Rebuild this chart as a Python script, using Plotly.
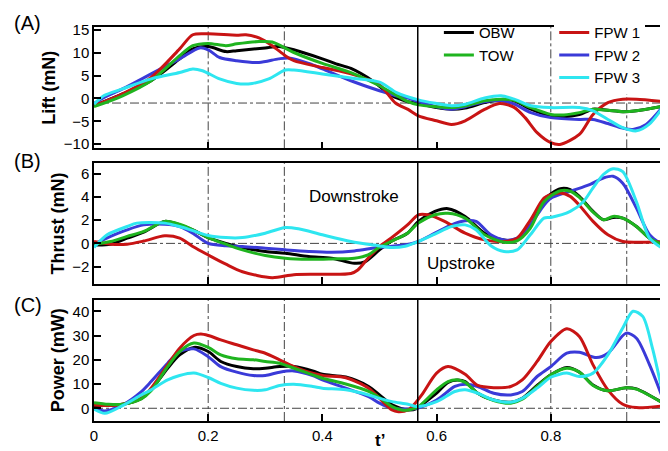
import plotly.graph_objects as go

# ---------------- (A) Lift (mN)
lift_obw_t = [0, 0.05, 0.1, 0.15, 0.173, 0.2, 0.231, 0.25, 0.3, 0.323, 0.35, 0.4, 0.424, 0.45, 0.49, 0.52, 0.55, 0.568, 0.6, 0.626, 0.65, 0.684, 0.713, 0.736, 0.765, 0.8, 0.823, 0.85, 0.874, 0.9, 0.926, 0.95, 1.0]
lift_obw = [-1.6, 1.0, 3.9, 8.7, 10.9, 11.4, 10.3, 10.5, 11.1, 11.4, 10.7, 8.7, 7.6, 6.6, 3.7, 0.7, -0.7, -1.1, -2.0, -2.35, -2.1, -0.9, -0.2, -0.5, -2.35, -3.8, -4.0, -3.5, -2.35, -2.6, -2.9, -2.7, -1.6]
lift_tow_t = [0, 0.05, 0.1, 0.15, 0.173, 0.2, 0.231, 0.25, 0.289, 0.312, 0.35, 0.4, 0.45, 0.5, 0.55, 0.568, 0.6, 0.626, 0.65, 0.684, 0.713, 0.736, 0.765, 0.8, 0.823, 0.85, 0.874, 0.9, 0.926, 0.95, 1.0]
lift_tow = [-1.8, 0.6, 3.9, 9.4, 11.6, 12.1, 11.6, 12.0, 12.5, 12.4, 10.1, 7.7, 5.7, 2.8, -0.7, -1.4, -1.8, -2.0, -1.6, -0.5, -0.15, -0.4, -2.0, -3.5, -3.6, -3.1, -2.35, -2.6, -2.9, -2.7, -1.6]
lift_fpw1_t = [0, 0.05, 0.1, 0.15, 0.173, 0.2, 0.25, 0.266, 0.289, 0.312, 0.335, 0.35, 0.4, 0.45, 0.5, 0.528, 0.55, 0.568, 0.6, 0.626, 0.65, 0.684, 0.71, 0.735, 0.755, 0.776, 0.8, 0.816, 0.85, 0.874, 0.9, 0.926, 0.95, 1.0]
lift_fpw1 = [-1.6, 1.0, 4.6, 10.9, 14.0, 14.2, 13.9, 14.0, 13.3, 11.6, 9.4, 8.3, 6.8, 5.4, 3.0, -1.0, -2.4, -3.8, -4.9, -5.7, -4.9, -2.4, -1.1, -1.9, -4.2, -7.5, -9.7, -10.1, -7.9, -3.5, -0.9, -0.15, -0.15, -0.7]
lift_fpw2_t = [0, 0.017, 0.05, 0.1, 0.15, 0.185, 0.2, 0.22, 0.25, 0.289, 0.323, 0.341, 0.376, 0.4, 0.45, 0.5, 0.528, 0.55, 0.568, 0.6, 0.626, 0.65, 0.684, 0.713, 0.736, 0.765, 0.8, 0.85, 0.874, 0.9, 0.926, 0.944, 0.967, 1.0]
lift_fpw2 = [-1.1, 0.2, 2.1, 5.4, 8.7, 11.1, 10.7, 9.0, 8.3, 7.9, 8.7, 8.9, 7.7, 6.5, 3.9, 1.7, 0.6, 0.1, -0.7, -1.8, -2.35, -1.8, -0.7, -0.5, -1.25, -3.1, -4.2, -4.6, -4.6, -5.5, -6.5, -6.8, -5.7, -1.25]
lift_fpw3_t = [0, 0.017, 0.05, 0.1, 0.15, 0.173, 0.19, 0.22, 0.25, 0.277, 0.306, 0.335, 0.35, 0.4, 0.45, 0.5, 0.53, 0.568, 0.6, 0.626, 0.65, 0.684, 0.713, 0.736, 0.765, 0.8, 0.85, 0.874, 0.9, 0.926, 0.95, 0.972, 1.0]
lift_fpw3 = [-1.25, 0.6, 2.1, 4.3, 5.7, 6.5, 6.1, 4.3, 3.3, 3.3, 4.3, 6.25, 6.25, 5.4, 4.5, 3.6, 1.3, -0.3, -1.1, -1.6, -1.25, 0.1, 0.6, -0.15, -1.6, -2.0, -2.0, -2.7, -4.6, -6.4, -7.1, -5.7, -1.25]

# ---------------- (B) Thrust (mN)
thr_obw_t = [0, 0.029, 0.058, 0.087, 0.124, 0.15, 0.173, 0.2, 0.231, 0.26, 0.3, 0.335, 0.376, 0.416, 0.456, 0.474, 0.5, 0.52, 0.549, 0.568, 0.597, 0.62, 0.65, 0.684, 0.718, 0.741, 0.764, 0.788, 0.817, 0.834, 0.85, 0.874, 0.892, 0.909, 0.926, 0.95, 0.973, 1.0]
thr_obw = [-0.13, -0.07, 0.45, 0.97, 1.9, 1.6, 1.17, 0.5, 0.0, -0.36, -0.7, -0.85, -1.14, -1.28, -1.72, -1.6, -0.56, 0.16, 0.88, 1.9, 2.76, 3.0, 2.33, 0.88, 0.3, 0.3, 1.46, 3.77, 4.72, 4.64, 4.06, 2.76, 2.04, 2.24, 2.18, 1.46, 0.45, -0.13]
thr_tow_t = [0, 0.029, 0.058, 0.087, 0.124, 0.15, 0.173, 0.2, 0.231, 0.26, 0.3, 0.335, 0.376, 0.416, 0.456, 0.48, 0.497, 0.52, 0.549, 0.568, 0.597, 0.62, 0.65, 0.684, 0.718, 0.741, 0.764, 0.788, 0.817, 0.834, 0.85, 0.874, 0.892, 0.909, 0.926, 0.95, 0.973, 1.0]
thr_tow = [-0.07, 0.16, 0.6, 1.03, 1.9, 1.65, 1.17, 0.5, -0.07, -0.56, -1.05, -1.28, -1.37, -1.34, -1.28, -1.0, -0.42, 0.16, 0.88, 1.75, 2.47, 2.6, 2.18, 0.74, 0.1, 0.22, 1.3, 3.6, 4.55, 4.5, 3.97, 2.7, 2.04, 2.33, 2.18, 1.46, 0.45, -0.2]
thr_fpw1_t = [0, 0.029, 0.058, 0.087, 0.124, 0.15, 0.173, 0.2, 0.231, 0.26, 0.312, 0.35, 0.4, 0.45, 0.462, 0.48, 0.5, 0.52, 0.549, 0.568, 0.585, 0.614, 0.65, 0.684, 0.718, 0.741, 0.764, 0.788, 0.8, 0.817, 0.834, 0.85, 0.874, 0.9, 0.926, 0.95, 1.0]
thr_fpw1 = [0.16, -0.07, -0.07, 0.2, 0.65, 0.45, -0.27, -1.0, -1.8, -2.45, -2.96, -2.7, -2.67, -2.6, -2.3, -1.28, -0.27, 0.45, 1.6, 2.47, 2.47, 1.9, 0.88, 0.3, 0.16, 0.45, 2.0, 3.9, 4.2, 4.35, 4.06, 3.3, 1.9, 0.74, 0.16, 0.1, 0.16]
thr_fpw2_t = [0, 0.029, 0.058, 0.087, 0.124, 0.15, 0.173, 0.2, 0.231, 0.26, 0.3, 0.335, 0.376, 0.416, 0.456, 0.497, 0.549, 0.568, 0.597, 0.626, 0.65, 0.669, 0.695, 0.718, 0.741, 0.764, 0.788, 0.8, 0.834, 0.869, 0.892, 0.909, 0.926, 0.95, 0.973, 1.0]
thr_fpw2 = [-0.07, 0.6, 1.17, 1.6, 1.66, 1.46, 0.88, 0.0, -0.2, -0.27, -0.42, -0.56, -0.7, -0.77, -0.65, -0.36, -0.1, 0.16, 0.88, 1.6, 1.95, 1.9, 0.74, 0.3, 0.45, 1.6, 3.3, 3.9, 4.5, 5.1, 5.65, 5.8, 5.2, 3.05, 0.74, -0.27]
thr_fpw3_t = [0, 0.023, 0.058, 0.075, 0.124, 0.15, 0.173, 0.2, 0.231, 0.26, 0.3, 0.335, 0.358, 0.4, 0.45, 0.497, 0.52, 0.545, 0.568, 0.597, 0.626, 0.65, 0.669, 0.695, 0.718, 0.741, 0.764, 0.788, 0.8, 0.834, 0.857, 0.874, 0.892, 0.909, 0.926, 0.95, 0.973, 1.0]
thr_fpw3 = [-0.36, 0.74, 1.46, 1.75, 1.75, 1.46, 1.1, 0.68, 0.5, 0.5, 0.88, 1.37, 1.26, 0.74, 0.16, -0.2, -0.36, -0.25, 0.16, 0.8, 1.46, 1.6, 1.17, -0.2, -0.7, -0.56, 0.74, 2.18, 2.24, 2.76, 3.6, 4.8, 5.95, 6.45, 6.2, 3.6, 0.45, -0.56]

# ---------------- (C) Power (mW)
pow_obw_t = [0, 0.05, 0.083, 0.1, 0.129, 0.15, 0.175, 0.2, 0.222, 0.25, 0.279, 0.3, 0.325, 0.35, 0.383, 0.4, 0.441, 0.481, 0.5, 0.522, 0.55, 0.566, 0.574, 0.6, 0.62, 0.637, 0.65, 0.672, 0.7, 0.73, 0.75, 0.776, 0.8, 0.828, 0.85, 0.874, 0.9, 0.932, 0.95, 1.0]
pow_obw = [1.1, 1.65, 4.1, 7.6, 16.5, 22.0, 25.1, 23.4, 19.3, 17.2, 16.3, 16.5, 17.2, 17.2, 15.4, 14.0, 12.9, 9.0, 5.5, 1.4, -0.7, 0.0, 1.4, 6.2, 10.7, 11.7, 11.0, 6.2, 3.4, 2.5, 4.1, 9.4, 13.8, 16.8, 14.9, 9.6, 7.2, 8.5, 8.0, 1.65]
pow_tow_t = [0, 0.025, 0.05, 0.083, 0.1, 0.129, 0.15, 0.175, 0.2, 0.222, 0.25, 0.279, 0.3, 0.325, 0.35, 0.383, 0.4, 0.441, 0.481, 0.5, 0.522, 0.539, 0.55, 0.566, 0.6, 0.62, 0.637, 0.65, 0.672, 0.7, 0.73, 0.75, 0.776, 0.8, 0.828, 0.85, 0.874, 0.9, 0.932, 0.95, 1.0]
pow_tow = [2.3, 1.65, 1.65, 3.9, 7.2, 17.2, 23.4, 26.9, 25.1, 22.0, 20.4, 20.0, 19.3, 18.6, 16.5, 13.8, 12.4, 10.0, 7.0, 4.4, 0.7, -0.7, -0.7, 0.3, 7.6, 11.0, 11.7, 10.7, 6.2, 3.2, 2.1, 3.7, 9.0, 13.8, 16.5, 14.9, 9.4, 7.2, 8.5, 7.9, 1.65]
pow_fpw1_t = [0, 0.025, 0.05, 0.083, 0.1, 0.129, 0.15, 0.175, 0.187, 0.2, 0.222, 0.25, 0.279, 0.3, 0.325, 0.35, 0.372, 0.4, 0.441, 0.481, 0.5, 0.522, 0.533, 0.55, 0.56, 0.574, 0.6, 0.62, 0.65, 0.672, 0.7, 0.73, 0.75, 0.776, 0.8, 0.828, 0.85, 0.874, 0.9, 0.926, 0.95, 1.0]
pow_fpw1 = [1.4, 1.1, 1.65, 4.1, 8.3, 17.9, 24.8, 30.0, 30.6, 30.0, 28.2, 26.2, 24.1, 22.7, 20.0, 17.2, 15.2, 13.5, 12.6, 8.3, 4.1, -0.7, -1.4, -0.7, 1.4, 5.5, 14.5, 17.2, 14.0, 9.4, 8.5, 9.0, 11.7, 19.3, 27.5, 32.8, 29.6, 17.9, 7.6, 1.65, 0.3, 1.1]
pow_fpw2_t = [0, 0.019, 0.05, 0.083, 0.1, 0.129, 0.15, 0.175, 0.2, 0.222, 0.25, 0.279, 0.3, 0.325, 0.35, 0.383, 0.4, 0.441, 0.481, 0.5, 0.522, 0.55, 0.566, 0.6, 0.632, 0.65, 0.672, 0.7, 0.73, 0.75, 0.776, 0.8, 0.828, 0.85, 0.88, 0.9, 0.932, 0.95, 0.973, 1.0]
pow_fpw2 = [0.0, -1.1, 1.4, 6.9, 11.0, 18.6, 23.4, 24.5, 21.3, 17.2, 14.9, 13.5, 13.5, 14.9, 15.4, 13.5, 11.7, 8.3, 4.8, 2.1, 0.0, -0.3, 0.0, 3.4, 9.0, 9.9, 9.0, 6.2, 5.5, 6.9, 13.1, 17.2, 22.7, 23.1, 20.9, 22.7, 31.0, 28.9, 17.9, 1.65]
pow_fpw3_t = [0, 0.019, 0.05, 0.083, 0.1, 0.129, 0.15, 0.175, 0.2, 0.222, 0.25, 0.279, 0.3, 0.325, 0.35, 0.383, 0.4, 0.441, 0.481, 0.5, 0.522, 0.55, 0.566, 0.6, 0.632, 0.65, 0.672, 0.7, 0.73, 0.75, 0.776, 0.8, 0.828, 0.85, 0.874, 0.9, 0.926, 0.944, 0.961, 0.978, 1.0]
pow_fpw3 = [-0.3, -2.1, 1.1, 5.5, 7.6, 11.7, 13.5, 14.5, 12.7, 10.3, 8.3, 7.4, 7.6, 9.4, 9.9, 9.0, 8.3, 7.6, 5.5, 4.1, 2.75, 1.65, 0.7, 2.75, 6.9, 7.6, 6.2, 3.4, 2.5, 4.1, 8.3, 12.8, 14.5, 13.1, 14.5, 22.0, 33.1, 40.0, 37.9, 24.8, 1.65]

names = ["OBW", "TOW", "FPW 1", "FPW 2", "FPW 3"]
colors = ["#000000", "#1fb41f", "#c81414", "#3a3ad8", "#2ee6f0"]
legends = ["legend", "legend", "legend2", "legend2", "legend2"]

panels = [
    ("x", "y", [(lift_obw_t, lift_obw), (lift_tow_t, lift_tow), (lift_fpw1_t, lift_fpw1), (lift_fpw2_t, lift_fpw2), (lift_fpw3_t, lift_fpw3)]),
    ("x2", "y2", [(thr_obw_t, thr_obw), (thr_tow_t, thr_tow), (thr_fpw1_t, thr_fpw1), (thr_fpw2_t, thr_fpw2), (thr_fpw3_t, thr_fpw3)]),
    ("x3", "y3", [(pow_obw_t, pow_obw), (pow_tow_t, pow_tow), (pow_fpw1_t, pow_fpw1), (pow_fpw2_t, pow_fpw2), (pow_fpw3_t, pow_fpw3)]),
]
draw_order = [0, 3, 2, 1, 4]

fig = go.Figure()
for p, (xa, ya, series) in enumerate(panels):
    for i in draw_order:
        t, v = series[i]
        fig.add_trace(go.Scatter(
            x=t, y=v, mode="lines", name=names[i], xaxis=xa, yaxis=ya,
            line=dict(color=colors[i], width=3, shape="spline", smoothing=0.8),
            showlegend=(p == 0), legend=legends[i], legendrank=i + 1,
        ))

axis_common = dict(showgrid=False, zeroline=False, showline=True, mirror=True,
                   linecolor="black", linewidth=1.5, ticks="inside", ticklen=7,
                   tickwidth=1.5, tickcolor="black", tickfont=dict(size=15, color="black"))
title_font = dict(size=18, color="black", family="Liberation Sans")

fig.update_layout(
    width=668, height=451,
    margin=dict(l=86, r=7, t=19, b=38),
    paper_bgcolor="white", plot_bgcolor="white",
    font=dict(family="Liberation Sans, Arial, sans-serif", color="black"),
    xaxis=dict(axis_common, range=[0, 1], dtick=0.2, showticklabels=False, anchor="y"),
    xaxis2=dict(axis_common, range=[0, 1], dtick=0.2, showticklabels=False, anchor="y2", matches="x"),
    xaxis3=dict(axis_common, range=[0, 1], dtick=0.2, anchor="y3", matches="x"),
    yaxis=dict(axis_common, domain=[0.692, 1.0], range=[-10.95, 15.7], dtick=5,
               title=dict(text="<b>Lift (mN)</b>", font=title_font, standoff=3)),
    yaxis2=dict(axis_common, domain=[0.348, 0.655], range=[-3.5, 6.95], dtick=2,
                title=dict(text="<b>Thrust (mN)</b>", font=title_font, standoff=3)),
    yaxis3=dict(axis_common, domain=[0, 0.308], range=[-5.25, 44.8], dtick=10,
                title=dict(text="<b>Power (mW)</b>", font=title_font, standoff=3)),
    legend=dict(x=0.604, y=1.027, xanchor="left", yanchor="top", bgcolor="rgba(0,0,0,0)",
                font=dict(size=15), tracegroupgap=0),
    legend2=dict(x=0.806, y=1.027, xanchor="left", yanchor="top", bgcolor="white",
                 font=dict(size=15), tracegroupgap=0),
)

# reference lines: stroke phases and zero lines
shapes = []
for ya, zero in [("y", -1), ("y2", 0), ("y3", 0)]:
    for xv in [0.2, 1 / 3, 0.8, 0.933]:
        shapes.append(dict(type="line", xref="x", yref=ya + " domain", x0=xv, x1=xv, y0=0, y1=1,
                           line=dict(color="#444", width=1, dash="dashdot"), layer="below"))
    shapes.append(dict(type="line", xref="x", yref=ya + " domain", x0=0.567, x1=0.567, y0=0, y1=1,
                       line=dict(color="black", width=1.5)))
    shapes.append(dict(type="line", xref="x domain", yref=ya, x0=0, x1=1, y0=zero, y1=zero,
                       line=dict(color="#444", width=1, dash="dashdot"), layer="below"))
fig.update_layout(shapes=shapes)

annots = [
    ("(A)", -0.116, 1.01), ("(B)", -0.116, 0.66), ("(C)", -0.116, 0.294),
]
for txt, ax_, ay_ in annots:
    fig.add_annotation(text=txt, x=ax_, y=ay_, xref="paper", yref="paper", showarrow=False,
                       xanchor="center", yanchor="middle", font=dict(size=20))
fig.add_annotation(text="<b>t’</b>", x=0.5, y=-0.05, xref="paper", yref="paper", showarrow=False,
                   xanchor="center", yanchor="middle", font=dict(size=17, color="black"))
fig.add_annotation(text="Downstroke", x=0.455, y=0.571, xref="paper", yref="paper", showarrow=False,
                   xanchor="center", yanchor="middle", font=dict(size=17))
fig.add_annotation(text="Upstroke", x=0.642, y=0.401, xref="paper", yref="paper", showarrow=False,
                   xanchor="center", yanchor="middle", font=dict(size=17))

fig.write_html("out.html")
